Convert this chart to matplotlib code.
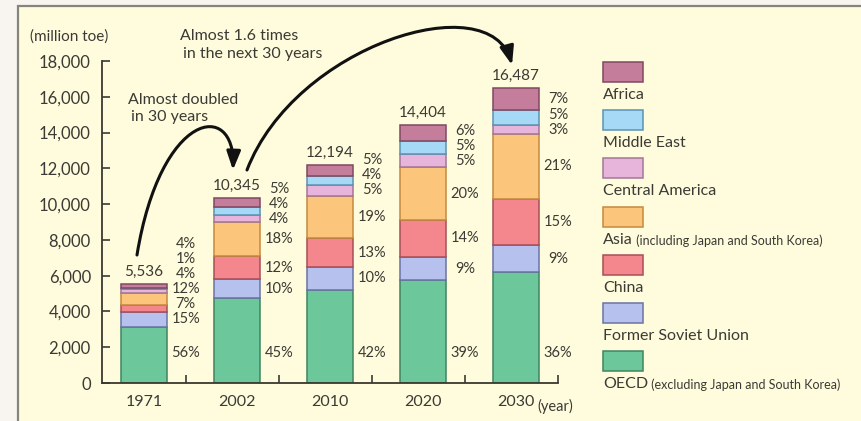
import matplotlib
matplotlib.use("Agg")
import matplotlib.pyplot as plt
from matplotlib.patches import Rectangle, FancyArrowPatch
from matplotlib.path import Path

plt.rcParams['font.family'] = ['Lato', 'DejaVu Sans']

# World primary energy demand by region (million toe) and regional shares (%)
years = ['1971', '2002', '2010', '2020', '2030']
totals = [5536, 10345, 12194, 14404, 16487]
oecd_pct = [56, 45, 42, 39, 36]
fsu_pct = [15, 10, 10, 9, 9]
china_pct = [7, 12, 13, 14, 15]
asia_pct = [12, 18, 19, 20, 21]
camerica_pct = [4, 4, 5, 5, 3]
mideast_pct = [1, 4, 4, 5, 5]
africa_pct = [4, 5, 5, 6, 7]

regions = ['OECD', 'Former Soviet Union', 'China', 'Asia', 'Central America',
           'Middle East', 'Africa']
shares = [oecd_pct, fsu_pct, china_pct, asia_pct, camerica_pct, mideast_pct, africa_pct]
colors = ['#6cc79a', '#b6c1ee', '#f4878d', '#fbc57b', '#e7b4dc', '#a6d9f5', '#c47e9c']
edges = ['#3f8463', '#6a74a6', '#a84e57', '#c48a40', '#a27796', '#5b92b3', '#7f4962']

W, H = 862, 421
bg_outer = '#f8f5f0'
bg_inner = '#fffcdd'
txt = '#3b3a34'


def fx(px):
    return px / W


def fy(py):
    return 1 - py / H


fig = plt.figure(figsize=(W / 100, H / 100), dpi=100, facecolor=bg_outer)
fig.add_artist(Rectangle((fx(18), -0.01), 1.0, fy(6) + 0.01, transform=fig.transFigure,
                         facecolor=bg_inner, edgecolor='#85857c', linewidth=1.6,
                         zorder=-10))

ax = fig.add_axes([fx(102), fy(383), fx(558) - fx(102), fy(61) - fy(383)])
ax.patch.set_alpha(0)

x = list(range(len(years)))
bar_w = 0.5

# stacked bars: shares are rounded, so scale them to the stated total
for i in x:
    s = sum(p[i] for p in shares)
    bottom = 0
    centers = []
    for k, p in enumerate(shares):
        h = totals[i] * p[i] / s
        ax.bar(i, h, bottom=bottom, width=bar_w, color=colors[k],
               edgecolor=edges[k], linewidth=1.1, zorder=2)
        centers.append(bottom + h / 2)
        bottom += h

    # share labels to the right of each bar, spread so they don't overlap
    ax.text(i + 0.45, 1700, f'{shares[0][i]}%', ha='center', va='center',
            fontsize=10.5, color=txt)
    prev = -1e9
    for k in range(1, len(shares)):
        yy = max(centers[k], prev + 840)
        ax.text(i + 0.45, yy, f'{shares[k][i]}%', ha='center', va='center',
                fontsize=10.5, color=txt)
        prev = yy

    ax.text(i, totals[i] + 280, f'{totals[i]:,}', ha='center', va='bottom',
            fontsize=11, color=txt)

ax.set_xlim(-0.45, 4.45)
ax.set_ylim(0, 18000)
ax.set_yticks(range(0, 18001, 2000))
ax.set_yticklabels([f'{v:,}' for v in range(0, 18001, 2000)])
ax.set_xticks(x)
ax.set_xticklabels(years)
ax.set_xticks([i + 0.45 for i in x], minor=True)
ax.tick_params(axis='y', direction='in', length=6, width=1.2, pad=8,
               labelsize=12, colors=txt)
ax.tick_params(axis='x', which='major', length=0, pad=9, labelsize=11.5, colors=txt)
ax.tick_params(axis='x', which='minor', direction='in', length=6, width=1.2, color=txt)
for side in ['top', 'right']:
    ax.spines[side].set_visible(False)
for side in ['left', 'bottom']:
    ax.spines[side].set_color('#3a392f')
    ax.spines[side].set_linewidth(1.3)

fig.text(fx(30), fy(37), '(million toe)', fontsize=11, color=txt, va='center')
fig.text(fx(537), fy(406), '(year)', fontsize=10.5, color=txt, va='center')

# growth arrows
arrow1 = Path([(-0.074, 7155), (0.18, 15250), (0.985, 15850), (0.957, 11907)],
              [Path.MOVETO, Path.CURVE4, Path.CURVE4, Path.CURVE4])
arrow2 = Path([(1.108, 11907), (1.625, 18894), (3.72, 22248), (3.956, 17776)],
              [Path.MOVETO, Path.CURVE4, Path.CURVE4, Path.CURVE4])
for pth in [arrow1, arrow2]:
    ap = FancyArrowPatch(path=pth, arrowstyle='-|>,head_length=0.8,head_width=0.3',
                         mutation_scale=14, linewidth=2.2, color='#111111',
                         clip_on=False, zorder=3)
    ax.add_patch(ap)

fig.text(fx(128), fy(100), 'Almost doubled', fontsize=11.5, color=txt, va='center')
fig.text(fx(131), fy(117), 'in 30 years', fontsize=11.5, color=txt, va='center')
fig.text(fx(180), fy(36), 'Almost 1.6 times', fontsize=11.5, color=txt, va='center')
fig.text(fx(183), fy(54), 'in the next 30 years', fontsize=11.5, color=txt, va='center')

# legend, top to bottom
legend_items = [
    ('Africa', '', 6),
    ('Middle East', '', 5),
    ('Central America', '', 4),
    ('Asia', ' (including Japan and South Korea)', 3),
    ('China', '', 2),
    ('Former Soviet Union', '', 1),
    ('OECD', ' (excluding Japan and South Korea)', 0),
]
for j, (name, note, k) in enumerate(legend_items):
    top = 62 + j * 48.2
    fig.add_artist(Rectangle((fx(603), fy(top + 20)), 40 / W, 20 / H,
                             transform=fig.transFigure, facecolor=colors[k],
                             edgecolor=edges[k], linewidth=1.1))
    t = fig.text(fx(603), fy(top + 33), name, fontsize=11.5, color=txt,
                 va='center')
    if note:
        ax.annotate(note, xy=(1, 0), xycoords=t, va='bottom', ha='left',
                    fontsize=9, color=txt, annotation_clip=False)

fig.savefig('out.png', dpi=100, facecolor=fig.get_facecolor())
